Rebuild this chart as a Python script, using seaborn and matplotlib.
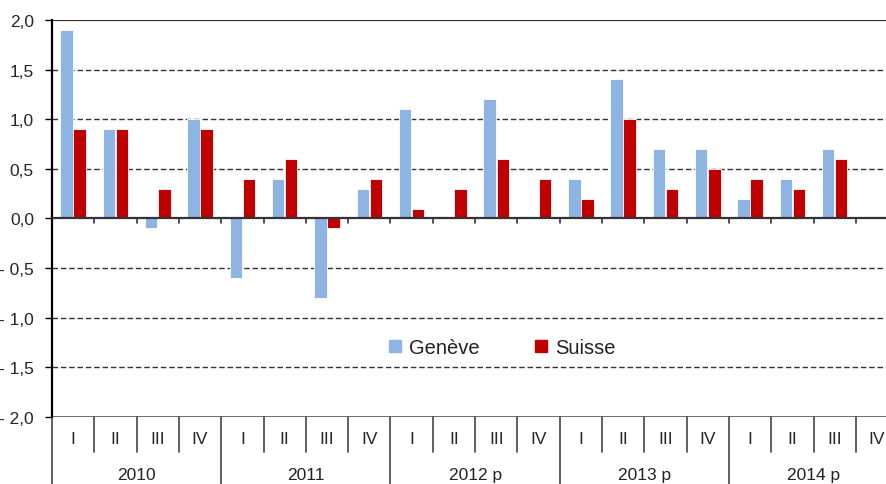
import pandas as pd
import seaborn as sns
import matplotlib.pyplot as plt
import matplotlib.transforms as mtransforms
from matplotlib.lines import Line2D

years = ['2010', '2011', '2012 p', '2013 p', '2014 p']
quarters = ['I', 'II', 'III', 'IV']
geneve = [1.9, 0.9, -0.1, 1.0,
          -0.6, 0.4, -0.8, 0.3,
          1.1, 0.0, 1.2, 0.0,
          0.4, 1.4, 0.7, 0.7,
          0.2, 0.4, 0.7, None]
suisse = [0.9, 0.9, 0.3, 0.9,
          0.4, 0.6, -0.1, 0.4,
          0.1, 0.3, 0.6, 0.4,
          0.2, 1.0, 0.3, 0.5,
          0.4, 0.3, 0.6, None]
series = ['Genève', 'Suisse']
colors = ['#8EB4E3', '#C00000']

periods = [f'{y}-{q}' for y in years for q in quarters]
df = pd.DataFrame({'periode': periods * 2,
                   'serie': [series[0]] * len(periods) + [series[1]] * len(periods),
                   'valeur': geneve + suisse})

sns.set_style('white')
plt.rcParams['font.family'] = ['Liberation Sans', 'DejaVu Sans']
plt.rcParams['text.color'] = '#222222'

fig = plt.figure(figsize=(8.87, 4.85), dpi=100)
ax = fig.add_axes([0.0586, 0.138, 0.954, 0.819])

sns.barplot(data=df, x='periode', y='valeur', hue='serie', order=periods,
            hue_order=series, palette=colors, saturation=1, width=0.62, gap=0.05,
            edgecolor='white', linewidth=0.6, legend=False, ax=ax)

ax.set_xlim(-0.5, len(periods) - 0.5)
ax.set_ylim(-2.0, 2.0)
yt = [-2.0, -1.5, -1.0, -0.5, 0.0, 0.5, 1.0, 1.5, 2.0]
ax.set_yticks(yt)
ax.set_yticklabels([('- ' if v < 0 else '') + f'{abs(v):.1f}'.replace('.', ',') for v in yt],
                   fontsize=12.5)
ax.tick_params(axis='y', length=5, width=1, color='black', pad=8, left=True)

for v in [-1.5, -1.0, -0.5, 0.5, 1.0, 1.5]:
    ax.axhline(v, color='#333333', lw=1, ls=(0, (4, 2)), zorder=0)
ax.axhline(2.0, color='#333333', lw=1.6, zorder=0)
ax.axhline(-2.0, color='#555555', lw=1.2, zorder=0)
ax.axhline(0.0, color='#333333', lw=1.6, zorder=3)

for s in ['top', 'right', 'bottom']:
    ax.spines[s].set_visible(False)
ax.spines['left'].set_color('black')
ax.spines['left'].set_linewidth(1.6)

# small ticks under the zero line
for i in range(1, len(periods)):
    ax.plot([i - 0.5, i - 0.5], [0, -0.045], color='#333333', lw=1.2, zorder=3)

# two-level category axis
ax.set_xticks(range(len(periods)))
ax.set_xticklabels(quarters * len(years), fontsize=12.5)
ax.tick_params(axis='x', length=0, pad=10)
ax.set_xlabel('')
ax.set_ylabel('')

trans = mtransforms.blended_transform_factory(ax.transData, ax.transAxes)
for i in range(len(periods) + 1):
    x = i - 0.5
    low = -0.2 if i % 4 == 0 else -0.088
    ax.plot([x, x], [0, low], transform=trans, color='#444444', lw=1.2, clip_on=False)
for k, y in enumerate(years):
    ax.text(4 * k + 1.5, -0.145, y, transform=trans, ha='center', va='center', fontsize=12.5)

handles = [Line2D([0], [0], marker='s', ls='', markersize=9, color=c) for c in colors]
ax.legend(handles, series, loc='center', bbox_to_anchor=(0.53, 0.176), ncol=2,
          frameon=False, fontsize=14.5, columnspacing=2.6, handlelength=0.9,
          handletextpad=0.25)

fig.savefig('out.png', dpi=100)
